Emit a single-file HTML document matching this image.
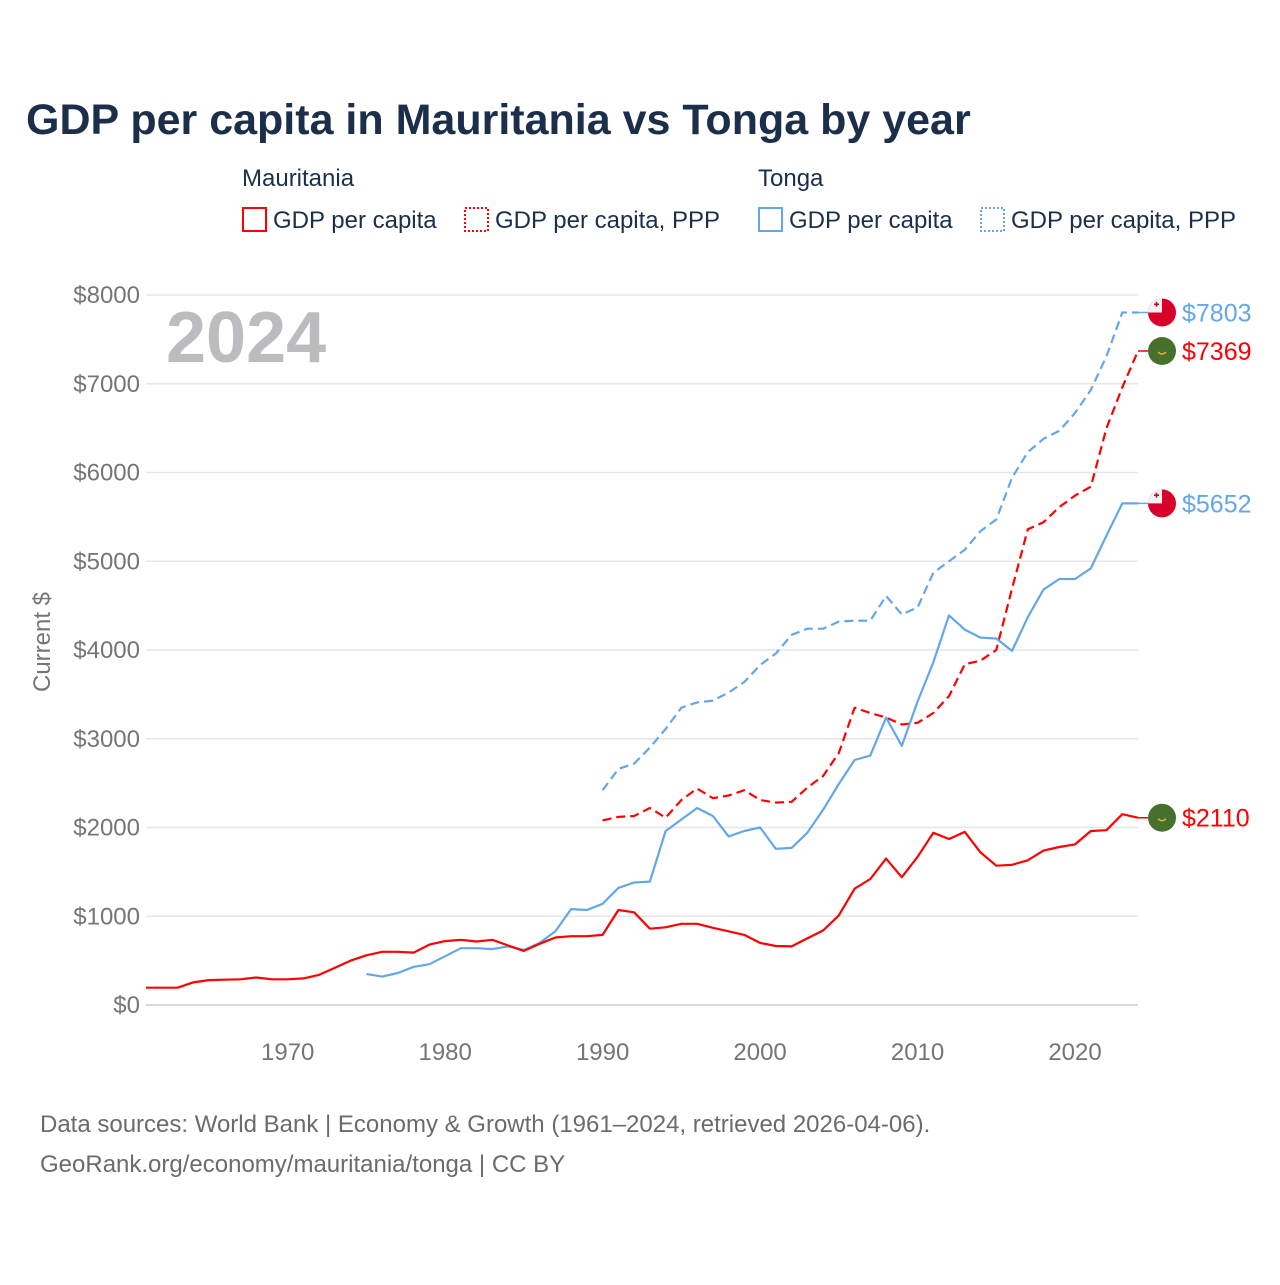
<!DOCTYPE html>
<html><head><meta charset="utf-8"><style>
body{margin:0;background:#fff;}
svg text{font-family:"Liberation Sans",sans-serif;}
</style></head><body>
<svg id="chart" width="1280" height="1280" viewBox="0 0 1280 1280" xmlns="http://www.w3.org/2000/svg">
<rect width="1280" height="1280" fill="#fff"/>
<text x="26" y="134" font-size="43" font-weight="bold" fill="#1b2f4b">GDP per capita in Mauritania vs Tonga by year</text>
<g font-size="24" fill="#1b2f4b">
<text x="242" y="186">Mauritania</text>
<text x="758" y="186">Tonga</text>
<g><rect x="243" y="208" width="23" height="23" fill="none" stroke="#ff0000" stroke-width="2"/><text x="273" y="228">GDP per capita</text></g>
<g><rect x="465" y="208" width="23" height="23" fill="none" stroke="#ff0000" stroke-width="2" stroke-dasharray="2,2"/><text x="495" y="228">GDP per capita, PPP</text></g>
<g><rect x="759" y="208" width="23" height="23" fill="none" stroke="#63a7ea" stroke-width="2"/><text x="789" y="228">GDP per capita</text></g>
<g><rect x="981" y="208" width="23" height="23" fill="none" stroke="#63a7ea" stroke-width="2" stroke-dasharray="2,2"/><text x="1011" y="228">GDP per capita, PPP</text></g>
</g>
<g id="grid"></g>
<text x="166" y="362" font-size="72" font-weight="bold" fill="#bcbcc0">2024</text>
<text transform="translate(50,642) rotate(-90)" text-anchor="middle" font-size="24" fill="#757575">Current $</text>
<g id="series"></g>
<g id="endlabels"></g>
<text x="40" y="1132" font-size="24" fill="#6b6b6b">Data sources: World Bank | Economy &amp; Growth (1961–2024, retrieved 2026-04-06).</text>
<text x="40" y="1172" font-size="24" fill="#6b6b6b">GeoRank.org/economy/mauritania/tonga | CC BY</text>
</svg>
<script>
const yTicks=[0,1000,2000,3000,4000,5000,6000,7000,8000];
const xTicks=[1970,1980,1990,2000,2010,2020];
const mauYears0=1961;
const mauGdp=[195,195,195,255,280,285,290,310,290,290,300,340,420,500,560,600,600,590,680,720,735,715,735,670,610,690,760,775,775,790,1070,1045,860,875,915,915,870,830,790,700,665,660,750,840,1010,1310,1420,1650,1440,1670,1940,1870,1950,1720,1570,1580,1630,1740,1780,1810,1960,1970,2150,2110];
const tonYears0=1975;
const tonGdp=[350,320,360,430,460,550,640,640,630,660,620,700,830,1080,1070,1140,1320,1380,1390,1960,2090,2220,2130,1900,1960,2000,1760,1770,1940,2200,2490,2760,2810,3240,2920,3420,3860,4390,4230,4140,4130,3990,4370,4680,4800,4800,4920,5290,5652,5652];
const pppYears0=1990;
const mauPpp=[2080,2120,2130,2220,2110,2310,2440,2330,2360,2420,2310,2280,2290,2450,2580,2840,3350,3290,3240,3160,3180,3290,3480,3840,3880,4000,4690,5360,5440,5610,5740,5840,6500,6960,7369];
const tonPpp=[2420,2660,2720,2900,3110,3350,3410,3430,3520,3640,3830,3960,4170,4240,4240,4320,4330,4330,4610,4400,4480,4870,5000,5130,5340,5470,5940,6230,6380,6470,6670,6930,7310,7803,7803];
const NS='http://www.w3.org/2000/svg';
const X=yr=>146+(yr-1961)*(1138-146)/63;
const Y=v=>1005-v*(1005-295)/8000;
function mk(t,a,p){const e=document.createElementNS(NS,t);for(const k in a)e.setAttribute(k,a[k]);p.appendChild(e);return e;}
const grid=document.getElementById('grid');
yTicks.forEach(v=>{
  const l=mk('line',{x1:146,x2:1138,y1:Y(v),y2:Y(v),stroke:v===0?'#d8d8d8':'#e6e6e6','stroke-width':v===0?2:1.5},grid);
  
  
  const t=mk('text',{x:140,y:Y(v)+8,'text-anchor':'end','font-size':24,fill:'#757575'},grid);
  t.textContent='$'+v;
  
  
});
xTicks.forEach(yr=>{
  const t=mk('text',{x:X(yr),y:1060,'text-anchor':'middle','font-size':24,fill:'#757575'},grid);
  t.textContent=yr;
  
  
});
const ser=document.getElementById('series');
function line(vals,y0,color,dash,name){
  const pts=vals.map((v,i)=>X(y0+i).toFixed(1)+','+Y(v).toFixed(1)).join(' ');
  const p=mk('polyline',{points:pts,fill:'none',stroke:color,'stroke-width':2.2,'stroke-linejoin':'round'},ser);
  if(dash)p.setAttribute('stroke-dasharray','9,5');
  
  
}
line(tonPpp,pppYears0,'#63a7ea',true,'tonga-ppp-line');
line(mauPpp,pppYears0,'#ff0000',true,'mauritania-ppp-line');
line(tonGdp,tonYears0,'#63a7ea',false,'tonga-gdp-line');
line(mauGdp,mauYears0,'#ff0000',false,'mauritania-gdp-line');
const el=document.getElementById('endlabels');
function endLabel(v,color,flag,name){
  const y=Y(v);
  mk('line',{x1:1138,x2:1150,y1:y,y2:y,stroke:color,'stroke-width':1.5},el);
  const g=mk('g',{},el);
  
  
  if(flag==='ton'){
    mk('circle',{cx:1162,cy:y,r:14,fill:'#d8002a'},g);
    mk('path',{d:`M1148,${y} A14,14 0 0 1 1162,${y-14} L1162,${y} Z`,fill:'#f2f2f2'},g);
    mk('rect',{x:1154,y:y-9,width:5,height:1.6,fill:'#d8002a'},g);
    mk('rect',{x:1155.7,y:y-10.7,width:1.6,height:5,fill:'#d8002a'},g);
  }else{
    mk('circle',{cx:1162,cy:y,r:14,fill:'#46702b'},g);
    mk('path',{d:`M1158,${y+1} Q1162,${y+5} 1166,${y+1}`,fill:'none',stroke:'#e0b040','stroke-width':1.5},g);
  }
  const t=mk('text',{x:1182,y:y+9,'font-size':25,fill:color},g);
  t.textContent='$'+Math.round(v);
}
endLabel(tonPpp[tonPpp.length-1],'#63a7ea','ton','end-label-tonga-ppp');
endLabel(mauPpp[mauPpp.length-1],'#ff0000','mau','end-label-mauritania-ppp');
endLabel(tonGdp[tonGdp.length-1],'#63a7ea','ton','end-label-tonga-gdp');
endLabel(mauGdp[mauGdp.length-1],'#ff0000','mau','end-label-mauritania-gdp');
</script>
</body></html>
